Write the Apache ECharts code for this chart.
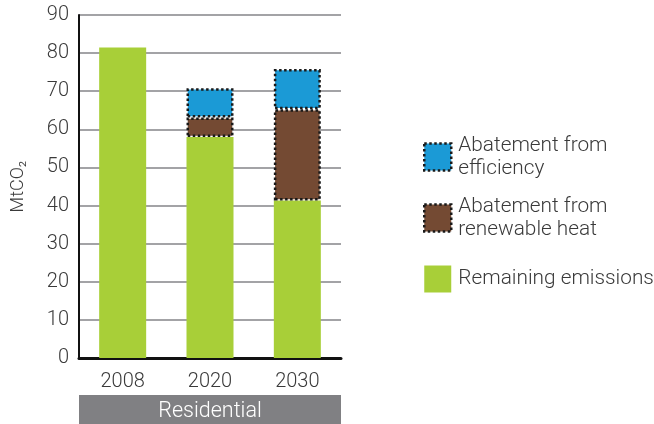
<!DOCTYPE html>
<html>
<head>
<meta charset="utf-8">
<script src="https://cdn.jsdelivr.net/npm/echarts@6/dist/echarts.min.js"></script>
<style>
  html, body { margin: 0; padding: 0; background: #fff; }
  #chart { width: 654px; height: 424px; }
</style>
</head>
<body>
<div id="chart"></div>
<script>
// Residential emissions and abatement, MtCO2
const years = ['2008', '2020', '2030'];
const remaining = [81.5, 58, 41.3];
const renewableHeat = [null, 5.1, 24];
const efficiency = [null, 7.7, 10.5];
const yTicks = [0, 10, 20, 30, 40, 50, 60, 70, 80, 90];
const sectorName = 'Residential';

const names = {
  eff: 'Abatement from\nefficiency',
  ren: 'Abatement from\nrenewable heat',
  rem: 'Remaining emissions'
};
const colors = { eff: '#1b9ad6', ren: '#744a33', rem: '#a8cf38' };

const font = 'Roboto, Liberation Sans, Arial, sans-serif';
const weight = 300;
const textColor = '#3a3a3a';

// plot area
const gLeft = 79, gRight = 313, gTop = 15, gBottom = 66;
const W = 654, H = 424;

const chart = echarts.init(document.getElementById('chart'));

const dotted = {
  borderColor: '#1a1a1a',
  borderWidth: 2.5,
  borderType: [2.5, 2.5]
};

chart.setOption({
  animation: false,
  textStyle: { fontFamily: font, fontWeight: weight },
  grid: { left: gLeft, right: gRight, top: gTop, bottom: gBottom, containLabel: false },
  xAxis: {
    type: 'category',
    data: years,
    axisLine: { lineStyle: { color: '#111', width: 3 } },
    axisTick: { show: false },
    axisLabel: { color: textColor, fontSize: 20, margin: 14, fontFamily: font, fontWeight: weight }
  },
  yAxis: {
    type: 'value',
    min: yTicks[0],
    max: yTicks[yTicks.length - 1],
    interval: 10,
    name: 'MtCO₂',
    nameLocation: 'middle',
    nameRotate: 90,
    nameGap: 52,
    nameTextStyle: { color: textColor, fontSize: 18, fontFamily: font, fontWeight: weight },
    axisLine: { show: true, lineStyle: { color: '#111', width: 2 } },
    axisTick: { show: false },
    axisLabel: { color: textColor, fontSize: 20, margin: 10, fontFamily: font, fontWeight: weight },
    splitLine: { lineStyle: { color: '#a3a3a6', width: 2 } }
  },
  legend: {
    orient: 'vertical',
    left: 418,
    top: 129,
    itemWidth: 27,
    itemHeight: 27,
    itemGap: 15,
    icon: 'rect',
    textStyle: {
      color: textColor, fontSize: 20.8, lineHeight: 23, height: 46, verticalAlign: 'middle',
      fontFamily: font, fontWeight: weight, padding: [0, 0, 0, 2]
    },
    data: [
      { name: names.eff, itemStyle: Object.assign({ color: colors.eff }, dotted) },
      { name: names.ren, itemStyle: Object.assign({ color: colors.ren }, dotted) },
      { name: names.rem, itemStyle: { color: colors.rem, borderWidth: 0 } }
    ]
  },
  series: [
    {
      name: names.rem, type: 'bar', stack: 'total', barWidth: 47,
      itemStyle: { color: colors.rem },
      data: remaining
    },
    {
      name: names.ren, type: 'bar', stack: 'total', barWidth: 47,
      itemStyle: Object.assign({ color: colors.ren }, dotted),
      data: renewableHeat
    },
    {
      name: names.eff, type: 'bar', stack: 'total', barWidth: 47,
      itemStyle: Object.assign({ color: colors.eff }, dotted),
      data: efficiency
    }
  ],
  graphic: [
    {
      type: 'rect',
      shape: { x: gLeft, y: 395, width: W - gLeft - gRight, height: H - 395 },
      style: { fill: '#808083' },
      silent: true
    },
    {
      type: 'text',
      x: gLeft + (W - gLeft - gRight) / 2,
      y: 412,
      style: {
        text: sectorName, fill: '#ffffff', fontSize: 21.5, fontFamily: font, fontWeight: weight,
        align: 'center', verticalAlign: 'middle'
      },
      silent: true
    }
  ]
});
</script>
</body>
</html>
